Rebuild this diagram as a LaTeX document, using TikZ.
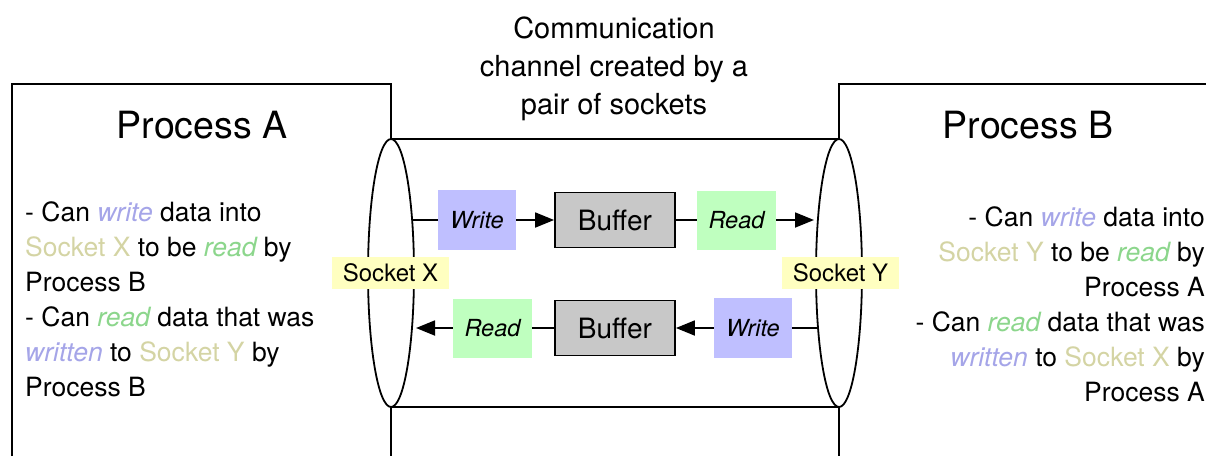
\documentclass[tikz,border=0pt]{standalone}
\usepackage{fontspec}
\setmainfont{TeX Gyre Heros}
\usetikzlibrary{shapes.geometric,arrows.meta}
\definecolor{wrfill}{RGB}{191,191,255}
\definecolor{rdfill}{RGB}{191,255,191}
\definecolor{buffill}{RGB}{200,200,200}
\definecolor{sockfill}{RGB}{255,255,192}
\definecolor{wrtext}{RGB}{165,165,232}
\definecolor{rdtext}{RGB}{140,214,140}
\definecolor{socktext}{RGB}{212,212,164}
\newcommand{\mywr}[1]{\textcolor{wrtext}{\itshape #1}}
\newcommand{\myrd}[1]{\textcolor{rdtext}{\itshape #1}}
\newcommand{\mysk}[1]{\textcolor{socktext}{#1}}
\begin{document}
\begin{tikzpicture}[x=1pt,y=-1pt,
  frame/.style={line width=1.8pt},
  conn/.style={line width=1.8pt},
  arr/.style={conn,-{Triangle[length=19pt,width=15pt]}},
  endcap/.style={ellipse,draw,line width=1.8pt,fill=white,minimum width=46pt,minimum height=268pt,inner sep=0pt},
  sockbox/.style={fill=sockfill,minimum width=117pt,minimum height=32pt,inner sep=0pt,font=\fontsize{24}{28}\selectfont},
  wrbox/.style={fill=wrfill,minimum width=78pt,minimum height=60pt,inner sep=0pt,font=\fontsize{23.5}{27}\selectfont\itshape},
  rdbox/.style={fill=rdfill,minimum width=79pt,minimum height=59pt,inner sep=0pt,font=\fontsize{23.5}{27}\selectfont\itshape},
  bufbox/.style={draw,line width=1.8pt,fill=buffill,minimum width=120pt,minimum height=55pt,inner sep=0pt,font=\fontsize{28}{32}\selectfont},
  title/.style={font=\fontsize{37.5}{44}\selectfont,inner sep=0pt},
  body/.style={font=\fontsize{26.5}{35}\selectfont,inner sep=0pt}
]
\useasboundingbox (0,0) rectangle (1206,456);
% process frames
\draw[frame] (12,456) -- (12,84) -- (391,84) -- (391,456);
\draw[frame] (1206,84) -- (839,84) -- (839,456);
% header
\node[font=\fontsize{29}{38}\selectfont,align=center,anchor=north,inner sep=0pt] (hdr) at (614,17)
  {Communication\\channel created by a\\pair of sockets};
% titles
\node[title,anchor=base] (pa) at (202,138) {Process A};
\node[title,anchor=base] (pb) at (1028,138) {Process B};
% descriptions
\node[body,align=left,anchor=north west] (da) at (25,201)
  {- Can \mywr{write} data into\\\mysk{Socket X} to be \myrd{read} by\\Process B\\- Can \myrd{read} data that was\\\mywr{written} to \mysk{Socket Y} by\\Process B};
\node[body,align=right,anchor=north east] (db) at (1205,206)
  {- Can \mywr{write} data into\\\mysk{Socket Y} to be \myrd{read} by\\Process A\\- Can \myrd{read} data that was\\\mywr{written} to \mysk{Socket X} by\\Process A};
% channel tube
\coordinate (tl) at (391,139);
\coordinate (tr) at (839,139);
\coordinate (bl) at (391,407);
\coordinate (br) at (839,407);
\draw[frame] (tl) -- (tr);
\draw[frame] (bl) -- (br);
\node[endcap] (ex) at (391,273) {};
\node[endcap] (ey) at (839,273) {};
% sockets
\node[sockbox] (sx) at (390.5,273) {Socket X};
\node[sockbox] (sy) at (840.5,273) {Socket Y};
% upper flow
\node[wrbox] (w1) at (477,220) {Write};
\node[bufbox] (b1) at (615,220) {Buffer};
\node[rdbox] (r1) at (736.5,220) {Read};
\coordinate (xa) at (412,220);
\coordinate (ya) at (814,220);
\draw[conn] (xa) -- (w1.west);
\draw[arr] (w1.east) -- (b1.west);
\draw[conn] (b1.east) -- (r1.west);
\draw[arr] (r1.east) -- (ya);
% lower flow
\node[rdbox] (r2) at (492.5,328) {Read};
\node[bufbox] (b2) at (615,328) {Buffer};
\node[wrbox] (w2) at (753,328) {Write};
\coordinate (xb) at (416,328);
\coordinate (yb) at (818,328);
\draw[conn] (yb) -- (w2.east);
\draw[arr] (w2.west) -- (b2.east);
\draw[conn] (b2.west) -- (r2.east);
\draw[arr] (r2.west) -- (xb);
\end{tikzpicture}
\end{document}
